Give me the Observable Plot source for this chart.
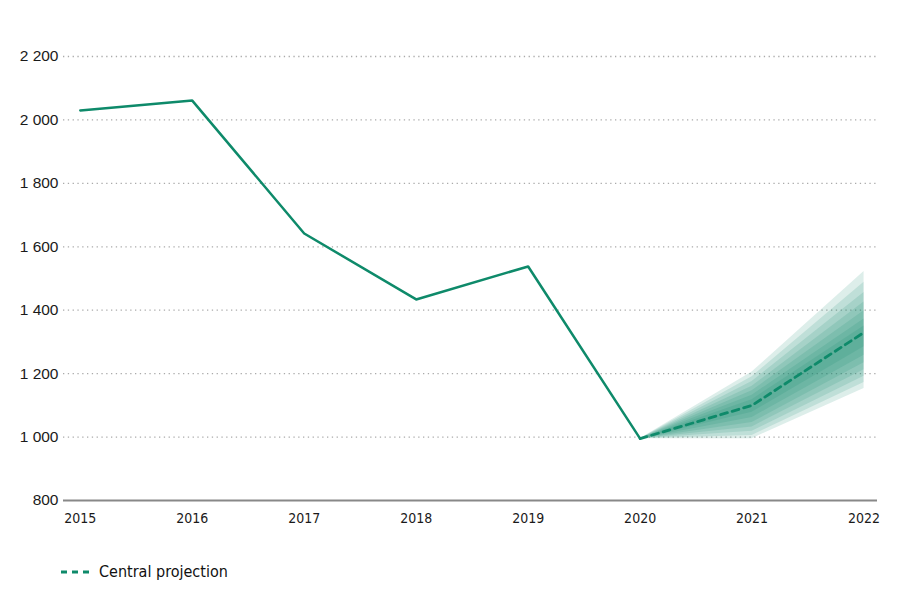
<!DOCTYPE html>
<html>
<head>
<meta charset="utf-8">
<script src="https://cdn.jsdelivr.net/npm/d3@7"></script>
<script src="https://cdn.jsdelivr.net/npm/@observablehq/plot@0.6"></script>
<style>
  body { margin: 0; background: #fff; }
  #legend { position: absolute; left: 60px; top: 562px; display: flex; align-items: center;
    font-family: "DejaVu Sans Condensed", "DejaVu Sans", sans-serif; font-stretch: condensed; font-size: 16px; font-weight: 500; color: #111; }
  #legend svg { margin-right: 5px; }
</style>
</head>
<body>
<div id="chart"></div>
<div id="legend">
  <svg width="34" height="10"><line x1="1" y1="5" x2="33" y2="5" stroke="#0e8a6a" stroke-width="3" stroke-dasharray="6,5"/></svg>
  <span>Central projection</span>
</div>
<script>
const years = [2015, 2016, 2017, 2018, 2019, 2020];
const actual = [2030, 2061, 1642, 1434, 1538, 995];

const projYears = [2020, 2021, 2022];
const central = [995, 1100, 1330];

// fan bands (outer to inner): lower & upper bounds at 2020, 2021, 2022
const bandLower = [
  [995, 995, 1153],
  [995, 1005, 1172],
  [995, 1018, 1192],
  [995, 1032, 1212],
  [995, 1046, 1234],
  [995, 1062, 1258],
  [995, 1078, 1285]
];
const bandUpper = [
  [995, 1205, 1522],
  [995, 1190, 1488],
  [995, 1175, 1456],
  [995, 1160, 1426],
  [995, 1146, 1398],
  [995, 1132, 1372],
  [995, 1118, 1350]
];

const yTicks = [800, 1000, 1200, 1400, 1600, 1800, 2000, 2200];
const xTicks = [2015, 2016, 2017, 2018, 2019, 2020, 2021, 2022];

const green = "#0e8a6a";
const fmt = d => d3.format(",")(d).replace(/,/g, " ");

const histData = years.map((y, i) => ({year: y, value: actual[i]}));
const projData = projYears.map((y, i) => ({year: y, value: central[i]}));
const fanData = [];
bandLower.forEach((lo, b) => {
  projYears.forEach((y, i) => fanData.push({band: b, year: y, lo: lo[i], hi: bandUpper[b][i]}));
});

const chart = Plot.plot({
  width: 900,
  height: 540,
  marginLeft: 63,
  marginRight: 23,
  marginTop: 56,
  marginBottom: 40,
  style: {fontFamily: "Liberation Sans, Arial, sans-serif", fontSize: "15.5px", color: "#1a1a1a", background: "#fff"},
  x: {domain: [2014.85, 2022.12], ticks: xTicks, tickFormat: "d", tickSize: 0, tickPadding: 13, label: null},
  y: {domain: [800, 2200], ticks: yTicks, tickFormat: fmt, tickSize: 0, tickPadding: 5, label: null},
  marks: [
    Plot.ruleY(yTicks.filter(d => d > 800), {stroke: "#aaa", strokeWidth: 1.3, strokeDasharray: "1.3,3.5"}),
    ...bandLower.map((_, b) => Plot.areaY(fanData.filter(d => d.band === b), {x: "year", y1: "lo", y2: "hi", fill: green, fillOpacity: 0.14})),
    Plot.ruleY([800], {stroke: "#888", strokeWidth: 2}),
    Plot.line(histData, {x: "year", y: "value", stroke: green, strokeWidth: 2.5}),
    Plot.line(projData, {x: "year", y: "value", stroke: green, strokeWidth: 2.8, strokeDasharray: "7,5"})
  ]
});
chart.querySelectorAll("g[aria-label='x-axis tick label'] text").forEach(t => {
  t.style.fontFamily = "DejaVu Sans Condensed, DejaVu Sans, sans-serif";
  t.style.fontStretch = "condensed";
  t.style.fontSize = "14px";
  t.style.fontWeight = "500";
});
document.getElementById("chart").appendChild(chart);
</script>
</body>
</html>
